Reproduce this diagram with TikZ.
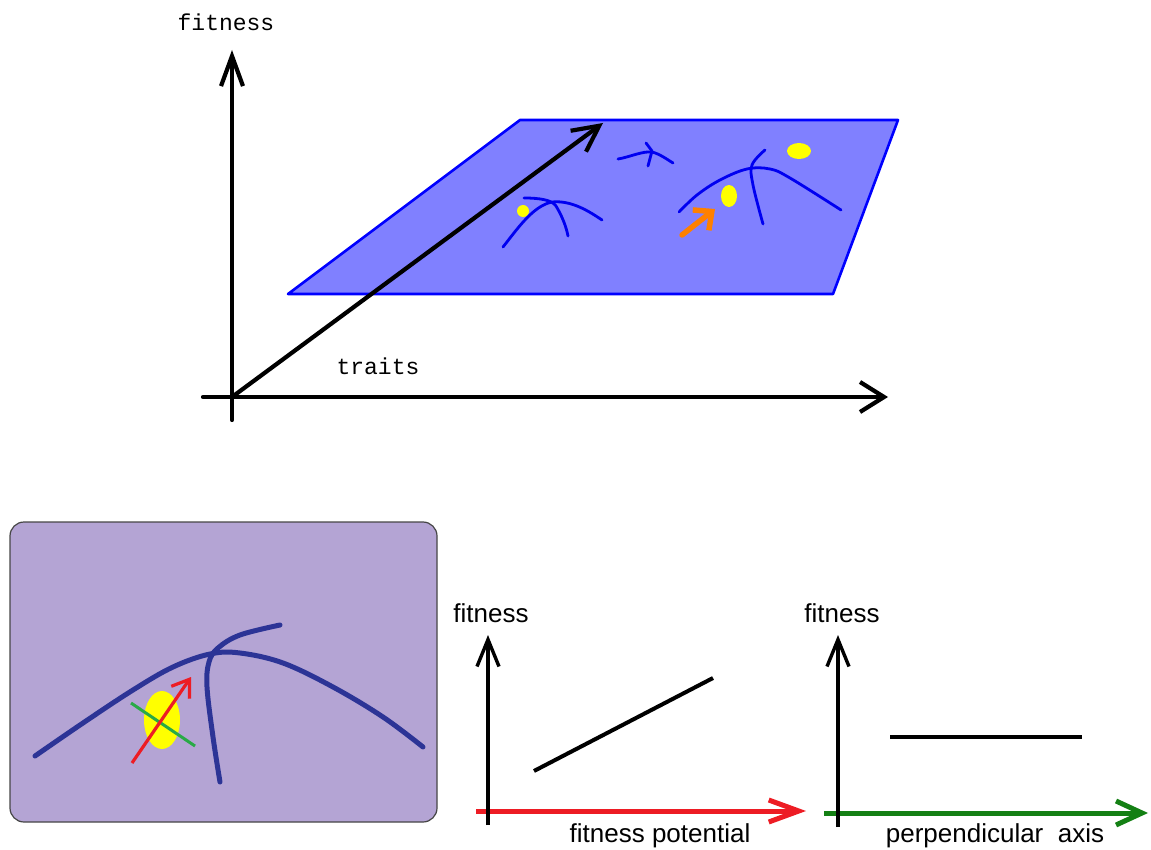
\documentclass[tikz,border=0pt]{standalone}
\usepackage{fontspec}
\newfontfamily\monof{Liberation Mono}
\newfontfamily\sansf{Liberation Sans}
\usetikzlibrary{arrows.meta}
\definecolor{planefill}{RGB}{128,128,255}
\definecolor{planeedge}{RGB}{0,0,255}
\definecolor{ridge}{RGB}{0,0,240}
\definecolor{yel}{RGB}{255,255,0}
\definecolor{orng}{RGB}{255,128,0}
\definecolor{lav}{RGB}{180,164,212}
\definecolor{boxedge}{RGB}{70,70,70}
\definecolor{dblue}{RGB}{44,52,150}
\definecolor{redax}{RGB}{237,28,36}
\definecolor{grnax}{RGB}{20,128,20}
\definecolor{grnline}{RGB}{40,170,70}
\tikzset{
  topaxis/.style={line width=4.2pt, line cap=round},
  ridgeline/.style={draw=ridge, line width=2.8pt, line cap=round, line join=round},
  dridge/.style={draw=dblue, line width=5pt, line cap=round, line join=round},
  monolabel/.style={font=\monof\fontsize{23}{26}\selectfont, inner sep=0pt},
  sanslabel/.style={font=\sansf\fontsize{26}{30}\selectfont, inner sep=0pt},
  yellowdot/.style={fill=yel, draw=none},
}
\begin{document}
\begin{tikzpicture}[x=1pt,y=-1pt]
\useasboundingbox (0,0) rectangle (1151,850);
% ---------- top: 3D landscape ----------
\coordinate (O) at (232,397);
\coordinate (Vtop) at (232,50);
\coordinate (Vbot) at (232,420);
\coordinate (Hleft) at (203,397);
\coordinate (Hright) at (888,397);
\coordinate (Dtip) at (603,123);
\coordinate (P1) at (520,120);
\coordinate (P2) at (898,120);
\coordinate (P3) at (833,294);
\coordinate (P4) at (288,294);
\draw[draw=planeedge, fill=planefill, line width=2.6pt, line join=round] (P1) -- (P2) -- (P3) -- (P4) -- cycle;
\draw[topaxis, -{Straight Barb[length=30pt,width=22pt]}] (Vbot) -- (Vtop);
\draw[topaxis, -{Straight Barb[length=24pt,width=30pt]}] (Hleft) -- (Hright);
\draw[topaxis, -{Straight Barb[length=26pt,width=26pt]}] (O) -- (Dtip);
\node[monolabel] (fitTop) at (226,22) {fitness};
\node[monolabel] (traits) at (378,366) {traits};
% small ridge A
\draw[ridgeline] (503,247) .. controls (518,228) and (533,206) .. (552,202) .. controls (572,200) and (590,212) .. (602,220);
\draw[ridgeline] (524,198) .. controls (540,198) and (552,200) .. (556,206) .. controls (562,216) and (566,226) .. (568,236);
\fill[yellowdot] (523,211) ellipse [x radius=6, y radius=6];
% small ridge B
\draw[ridgeline] (618,159) .. controls (630,157) and (642,151) .. (652,152) .. controls (660,154) and (668,160) .. (673,163);
\draw[ridgeline] (646,143) -- (652,151) -- (648,166);
% big ridge C
\draw[ridgeline] plot[smooth, tension=0.6] coordinates {(679,212) (697,195) (720,180) (747,169) (770,169) (790,178) (841,210)};
\draw[ridgeline] plot[smooth, tension=0.6] coordinates {(765,150) (752,165) (753,185) (763,224)};
\fill[yellowdot] (729,196) ellipse [x radius=8, y radius=11];
\fill[yellowdot] (799,151) ellipse [x radius=12, y radius=8];
\coordinate (oA) at (682,235);
\coordinate (oB) at (715,209);
\draw[draw=orng, line width=5.5pt, line cap=round, -{Straight Barb[length=14pt,width=26pt]}] (oA) -- (oB);
% ---------- bottom left: zoomed box ----------
\node[draw=boxedge, fill=lav, line width=1.2pt, rounded corners=14pt, minimum width=427pt, minimum height=300pt, inner sep=0pt] (box) at (223.5,672) {};
\fill[yellowdot] (162,720) ellipse [x radius=18, y radius=29];
\draw[dridge] plot[smooth, tension=0.6] coordinates {(35,756) (83,723) (133,690) (173,667) (210,654) (240,653) (283,663) (333,687) (383,717) (423,747)};
\draw[dridge] plot[smooth, tension=0.6] coordinates {(280,625) (240,635) (218,648) (209,662) (207,687) (213,737) (220,782)};
\coordinate (gA) at (131,703);
\coordinate (gB) at (195,746);
\draw[draw=grnline, line width=3pt] (gA) -- (gB);
\coordinate (rA) at (132,763);
\coordinate (rB) at (191,677);
\draw[draw=redax, line width=3.2pt, -{Straight Barb[length=16pt,width=22pt]}] (rA) -- (rB);
% ---------- bottom middle graph ----------
\coordinate (g1bot) at (488,825);
\coordinate (g1top) at (488,635);
\coordinate (g1l) at (476,811);
\coordinate (g1r) at (806,811);
\draw[draw=redax, line width=5pt, -{Straight Barb[length=30pt,width=22pt]}] (g1l) -- (g1r);
\draw[line width=3.4pt, -{Straight Barb[length=27pt,width=22pt]}] (g1bot) -- (g1top);
\coordinate (l1a) at (534,771);
\coordinate (l1b) at (713,678);
\draw[line width=4pt] (l1a) -- (l1b);
\node[sanslabel] (fit1) at (491,613) {fitness};
\node[sanslabel] (fpot) at (660,836) {fitness potential};
% ---------- bottom right graph ----------
\coordinate (g2bot) at (838,827);
\coordinate (g2top) at (838,635);
\coordinate (g2l) at (824,813);
\coordinate (g2r) at (1148,813);
\draw[draw=grnax, line width=5pt, -{Straight Barb[length=26pt,width=24pt]}] (g2l) -- (g2r);
\draw[line width=3.4pt, -{Straight Barb[length=27pt,width=22pt]}] (g2bot) -- (g2top);
\coordinate (l2a) at (890,737);
\coordinate (l2b) at (1082,737);
\draw[line width=4pt] (l2a) -- (l2b);
\node[sanslabel] (fit2) at (842,613) {fitness};
\node[sanslabel] (perp) at (995,836) {perpendicular\ \ axis};
\end{tikzpicture}
\end{document}
